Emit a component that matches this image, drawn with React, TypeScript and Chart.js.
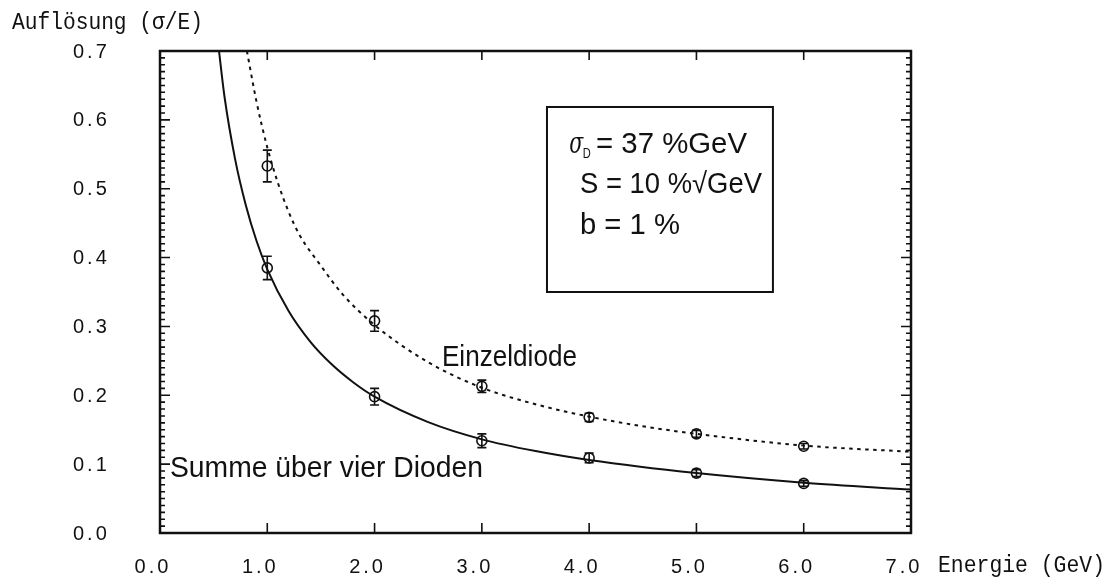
import { useEffect, useRef } from "react";
import { Chart, registerables } from "chart.js";

Chart.register(...registerables);

// Measured resolution at each beam energy (GeV)
const energies = [1, 2, 3, 4, 5, 6];
const einzelValues = [0.533, 0.308, 0.213, 0.168, 0.144, 0.126];
const einzelErrors = [0.023, 0.015, 0.009, 0.006, 0.005, 0.004];
const summeValues = [0.385, 0.198, 0.134, 0.109, 0.087, 0.072];
const summeErrors = [0.017, 0.012, 0.01, 0.007, 0.005, 0.004];

// Fitted resolution curves
const summeCurveE = [0.55, 0.6, 0.7, 0.8, 0.9, 1.0, 1.2, 1.4, 1.6, 1.8, 2.0, 2.5, 3.0, 3.5, 4.0, 5.0, 6.0, 7.0];
const summeCurveVal = [0.7, 0.635, 0.543, 0.476, 0.424, 0.383, 0.322, 0.278, 0.245, 0.219, 0.198, 0.161, 0.136, 0.119, 0.106, 0.087, 0.073, 0.063];
const einzelCurveE = [0.81, 0.9, 1.0, 1.1, 1.2, 1.3, 1.5, 1.7, 2.0, 2.5, 3.0, 3.5, 4.0, 4.5, 5.0, 6.0, 7.0];
const einzelCurveVal = [0.7, 0.626, 0.56, 0.508, 0.466, 0.433, 0.388, 0.347, 0.302, 0.248, 0.211, 0.187, 0.169, 0.155, 0.144, 0.127, 0.118];

// Axis ranges and tick steps
const xRange = [0, 7];
const yRange = [0, 0.7];
const xStep = 1;
const yStep = 0.1;
const yMinorStep = 0.01;

const INK = "#111";
const PLOT_FONT = "'Liberation Sans Narrow', 'Liberation Sans', sans-serif";
const MONO_FONT = "'Liberation Mono', 'DejaVu Sans Mono', monospace";

const pts = (xs: number[], ys: number[]) => xs.map((x, i) => ({ x, y: ys[i] }));

function fitText(ctx: CanvasRenderingContext2D, text: string, x: number, y: number, font: string, width: number) {
  ctx.font = font;
  const w = ctx.measureText(text).width;
  ctx.save();
  ctx.translate(x, y);
  ctx.scale(width / w, 1);
  ctx.fillText(text, 0, 0);
  ctx.restore();
}

// Wider spacing for the tick numerals
const tickSpacingPlugin = {
  id: "tickSpacing",
  beforeDraw(chart: any) {
    (chart.ctx as any).letterSpacing = "3px";
  },
  beforeDatasetsDraw(chart: any) {
    (chart.ctx as any).letterSpacing = "0px";
  },
};

const errorBarPlugin = {
  id: "errorBars",
  afterDatasetsDraw(chart: any) {
    const { ctx, scales } = chart;
    const xs = scales.x;
    const ys = scales.y;
    const draw = (vals: number[], errs: number[]) => {
      energies.forEach((e, i) => {
        const px = xs.getPixelForValue(e);
        const top = ys.getPixelForValue(vals[i] + errs[i]);
        const bot = ys.getPixelForValue(vals[i] - errs[i]);
        ctx.beginPath();
        ctx.moveTo(px, top);
        ctx.lineTo(px, bot);
        ctx.moveTo(px - 4.5, top);
        ctx.lineTo(px + 4.5, top);
        ctx.moveTo(px - 4.5, bot);
        ctx.lineTo(px + 4.5, bot);
        ctx.stroke();
      });
    };
    ctx.save();
    ctx.strokeStyle = INK;
    ctx.lineWidth = 1.6;
    draw(summeValues, summeErrors);
    draw(einzelValues, einzelErrors);
    ctx.restore();
  },
};

const framePlugin = {
  id: "frameAndLabels",
  afterDraw(chart: any) {
    const { ctx, chartArea: a, scales } = chart;
    const xs = scales.x;
    const ys = scales.y;
    ctx.save();
    (ctx as any).letterSpacing = "0px";
    ctx.strokeStyle = INK;
    ctx.fillStyle = INK;

    // frame
    ctx.lineWidth = 2.5;
    ctx.strokeRect(a.left, a.top, a.right - a.left, a.bottom - a.top);

    // inward tick marks
    ctx.lineWidth = 1.6;
    ctx.beginPath();
    xs.ticks.forEach((t: any) => {
      const px = xs.getPixelForValue(t.value);
      ctx.moveTo(px, a.bottom);
      ctx.lineTo(px, a.bottom - 10);
      ctx.moveTo(px, a.top);
      ctx.lineTo(px, a.top + 9);
    });
    ys.ticks.forEach((t: any) => {
      const py = ys.getPixelForValue(t.value);
      ctx.moveTo(a.left, py);
      ctx.lineTo(a.left + 10, py);
      ctx.moveTo(a.right, py);
      ctx.lineTo(a.right - 10, py);
    });
    const nMinor = Math.round((yRange[1] - yRange[0]) / yMinorStep);
    for (let i = 0; i <= nMinor; i++) {
      if (i % 10 === 0) continue;
      const py = ys.getPixelForValue(yRange[0] + i * yMinorStep);
      ctx.moveTo(a.left, py);
      ctx.lineTo(a.left + 5, py);
      ctx.moveTo(a.right, py);
      ctx.lineTo(a.right - 5, py);
    }
    ctx.stroke();

    // axis captions
    ctx.textBaseline = "alphabetic";
    ctx.textAlign = "left";
    fitText(ctx, "Auflösung (σ/E)", 12, 29, `23px ${MONO_FONT}`, 191);
    fitText(ctx, "Energie (GeV)", a.right + 27, a.bottom + 39, `23px ${MONO_FONT}`, 167);

    const X = (v: number) => xs.getPixelForValue(v);
    const Y = (v: number) => ys.getPixelForValue(v);

    // curve labels
    fitText(ctx, "Einzeldiode", X(2.628), Y(0.2425), `29px ${PLOT_FONT}`, 135);
    fitText(ctx, "Summe über vier Dioden", X(0.093), Y(0.0813), `29px ${PLOT_FONT}`, 313);

    // parameter box
    ctx.lineWidth = 2;
    ctx.strokeRect(X(3.607), Y(0.6187), X(5.713) - X(3.607), Y(0.35) - Y(0.6187));
    fitText(ctx, "σ", X(3.815), Y(0.5519), `italic 30px 'DejaVu Serif', serif`, 14);
    fitText(ctx, "D", X(3.94), Y(0.5446), `14px ${PLOT_FONT}`, 8);
    fitText(ctx, "= 37 %GeV", X(4.064), Y(0.5519), `29px ${PLOT_FONT}`, 151);
    fitText(ctx, "S = 10 %√GeV", X(3.9146), Y(0.4938), `29px ${PLOT_FONT}`, 182);
    fitText(ctx, "b = 1 %", X(3.9146), Y(0.4342), `29px ${PLOT_FONT}`, 100);

    ctx.restore();
  },
};

export default function App() {
  const canvasRef = useRef<HTMLCanvasElement | null>(null);

  useEffect(() => {
    const canvas = canvasRef.current;
    if (!canvas) return;
    const tickFont = { family: "'Liberation Sans', Arial, sans-serif", size: 20 };
    const chart = new Chart(canvas, {
      type: "scatter",
      data: {
        datasets: [
          {
            label: "Summe über vier Dioden (Anpassung)",
            data: pts(summeCurveE, summeCurveVal),
            showLine: true,
            borderColor: INK,
            borderWidth: 2,
            pointRadius: 0,
            cubicInterpolationMode: "monotone",
          },
          {
            label: "Einzeldiode (Anpassung)",
            data: pts(einzelCurveE, einzelCurveVal),
            showLine: true,
            borderColor: INK,
            borderWidth: 2,
            borderDash: [3.5, 4.5],
            pointRadius: 0,
            cubicInterpolationMode: "monotone",
          },
          {
            label: "Summe über vier Dioden",
            data: pts(energies, summeValues),
            showLine: false,
            pointRadius: 5,
            pointBorderWidth: 1.6,
            pointBorderColor: INK,
            pointBackgroundColor: "rgba(0,0,0,0)",
          },
          {
            label: "Einzeldiode",
            data: pts(energies, einzelValues),
            showLine: false,
            pointRadius: 5,
            pointBorderWidth: 1.6,
            pointBorderColor: INK,
            pointBackgroundColor: "rgba(0,0,0,0)",
          },
        ],
      } as any,
      options: {
        animation: false,
        responsive: true,
        maintainAspectRatio: false,
        layout: { padding: { top: 51, right: 200, left: 73, bottom: 0 } },
        plugins: { legend: { display: false }, tooltip: { enabled: false } },
        scales: {
          x: {
            type: "linear",
            min: xRange[0],
            max: xRange[1],
            grid: { display: false, drawTicks: false },
            border: { display: false },
            ticks: {
              stepSize: xStep,
              callback: (v: any) => Number(v).toFixed(1),
              font: tickFont,
              color: INK,
              padding: 22,
              labelOffset: -7,
              maxRotation: 0,
              autoSkip: false,
            },
            afterFit: (s: any) => {
              s.height = 45;
            },
          },
          y: {
            type: "linear",
            min: yRange[0],
            max: yRange[1],
            grid: { display: false, drawTicks: false },
            border: { display: false },
            ticks: {
              stepSize: yStep,
              callback: (v: any) => Number(v).toFixed(1),
              font: tickFont,
              color: INK,
              padding: 0,
              crossAlign: "far",
              labelOffset: 1,
              autoSkip: false,
            },
            afterFit: (s: any) => {
              s.width = 87;
            },
          },
        },
      } as any,
      plugins: [tickSpacingPlugin, errorBarPlugin, framePlugin],
    });
    return () => chart.destroy();
  }, []);

  return (
    <div style={{ position: "fixed", left: 0, top: 0, width: 1111, height: 578, background: "#fff" }}>
      <canvas ref={canvasRef} />
    </div>
  );
}
